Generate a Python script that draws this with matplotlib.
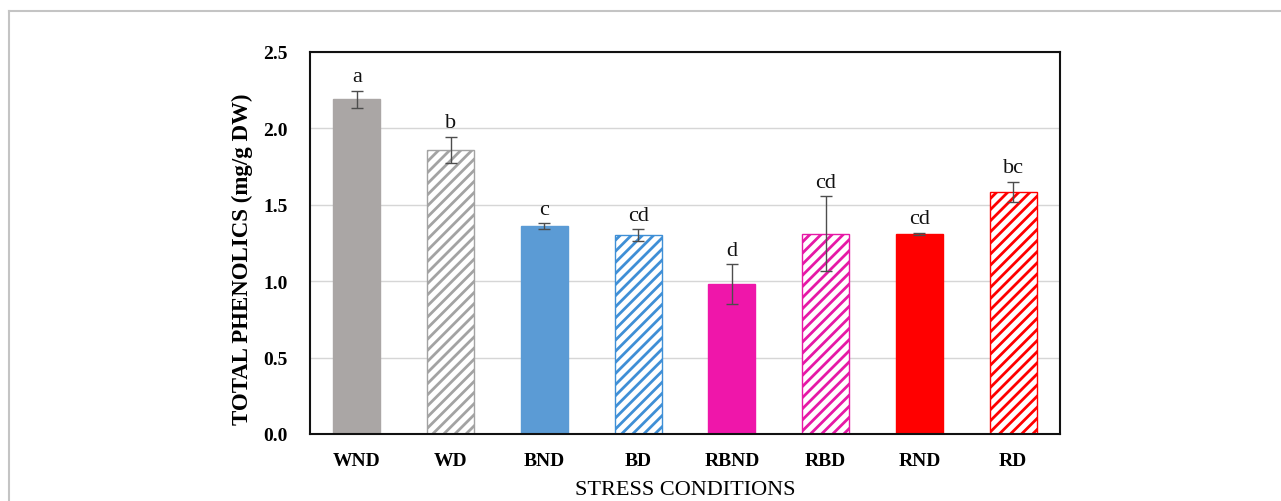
import matplotlib.pyplot as plt
import numpy as np
from matplotlib.lines import Line2D

conditions = ["WND", "WD", "BND", "BD", "RBND", "RBD", "RND", "RD"]
phenolics  = [2.19, 1.86, 1.36, 1.30, 0.98, 1.31, 1.31, 1.585]
errors     = [0.055, 0.085, 0.02, 0.04, 0.13, 0.245, 0.006, 0.065]
letters    = ["a", "b", "c", "cd", "d", "cd", "cd", "bc"]

fills   = ["#aaa6a5", "white", "#5b9bd5", "white", "#ef16aa", "white", "#ff0000", "white"]
edges   = ["#aaa6a5", "#a3a3a3", "#5b9bd5", "#3f8fd6", "#ef16aa", "#e619a6", "#ff0000", "#ff0000"]
hatches = [None, "///", None, "///", None, "///", None, "///"]

plt.rcParams["font.family"] = ["Liberation Serif", "DejaVu Serif"]
plt.rcParams["hatch.linewidth"] = 2.0

fig = plt.figure(figsize=(12.81, 5.02), dpi=100)
ax = fig.add_axes([0.242, 0.1335, 0.5855, 0.761])

x = np.arange(len(conditions))
bars = ax.bar(x, phenolics, 0.5, color=fills, edgecolor=edges, linewidth=1.0, zorder=2)
for b, h in zip(bars, hatches):
    if h:
        b.set_hatch(h)

ax.errorbar(x, phenolics, yerr=errors, fmt="none", ecolor="#4d4d4d",
            elinewidth=1.0, capsize=4, capthick=1.0, zorder=3)

for i, (v, e, t) in enumerate(zip(phenolics, errors, letters)):
    ax.text(i, v + e + 0.03, t, ha="center", va="bottom", fontsize=16, color="#111111")

ax.set_xlim(-0.5, len(conditions) - 0.5)
ax.set_ylim(0, 2.5)
ax.set_yticks(np.arange(0, 2.51, 0.5))
ax.set_yticklabels([f"{v:.1f}" for v in np.arange(0, 2.51, 0.5)], fontweight="bold", fontsize=14)
ax.set_xticks(x)
ax.set_xticklabels(conditions, fontweight="bold", fontsize=14)
ax.tick_params(axis="both", length=0)
ax.tick_params(axis="y", pad=16)
ax.tick_params(axis="x", pad=13)
ax.yaxis.grid(True, color="#d6d6d6", linewidth=1.0, zorder=0)
ax.set_axisbelow(True)
for s in ax.spines.values():
    s.set_linewidth(1.5)
    s.set_color("#111111")

ax.set_ylabel("TOTAL PHENOLICS (mg/g DW)", fontweight="bold", fontsize=16.5)
ax.yaxis.set_label_coords(-0.076, 0.46)
ax.set_xlabel("STRESS CONDITIONS", fontsize=16, labelpad=8)

# thin outer border along top and left
fig.add_artist(Line2D([9 / 1281, 1], [1 - 12 / 502, 1 - 12 / 502], color="#c4c4c4", linewidth=1.5))
fig.add_artist(Line2D([9 / 1281, 9 / 1281], [0, 1 - 12 / 502], color="#c4c4c4", linewidth=1.5))

plt.savefig("out.png", dpi=100)
plt.close()
